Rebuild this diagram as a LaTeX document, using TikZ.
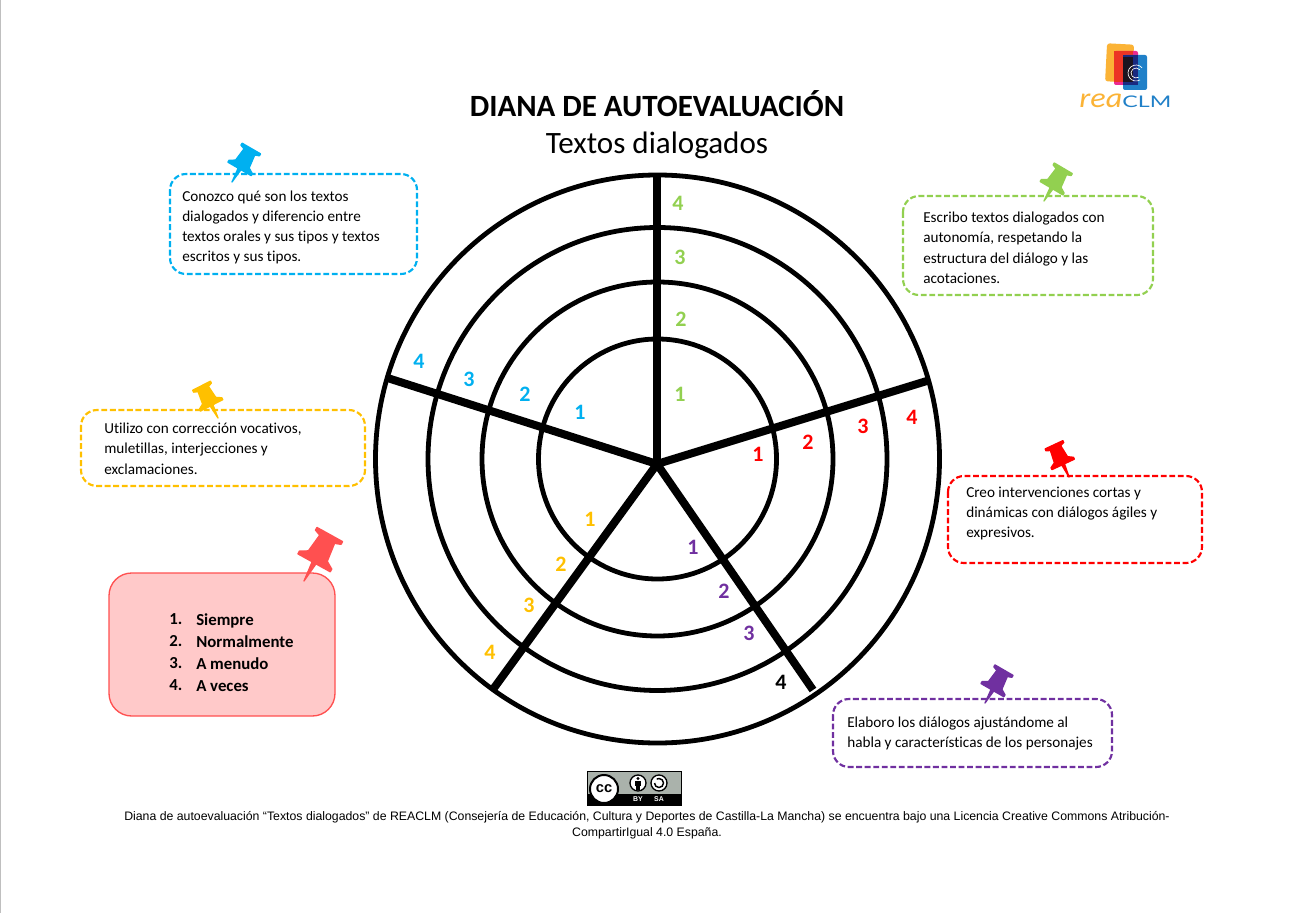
\documentclass[tikz,border=0pt]{standalone}
\usepackage{fontspec}
\setmainfont{Carlito}[RawFeature={-liga;-clig}]
\newfontfamily\footfont{Liberation Sans}
\newfontfamily\logofont{Lato}
\definecolor{cgreen}{HTML}{92D050}
\definecolor{cblue}{HTML}{00B0F0}
\definecolor{cred}{HTML}{FF0000}
\definecolor{corange}{HTML}{FFC000}
\definecolor{cpurple}{HTML}{7030A0}
\definecolor{cpink}{HTML}{FF5050}
\definecolor{cpinkfill}{HTML}{FFC9C9}
\definecolor{ccgray}{HTML}{AAB2AB}
\definecolor{lyellow}{HTML}{FBB336}
\definecolor{lred}{HTML}{EC3424}
\definecolor{lmag}{HTML}{EC2A90}
\definecolor{lblue}{HTML}{2080C8}
\definecolor{lnavy}{HTML}{1A2A80}
\definecolor{ldark}{HTML}{1C1420}
\tikzset{
  x=0.75pt,y=-0.75pt,
  ring/.style={draw=black,line width=3.6pt},
  spoke/.style={draw=black,line width=6pt},
  notebox/.style={draw=#1,line width=1.6pt,rounded corners=12pt,dash pattern=on 4.4pt off 2pt},
  notetext/.style={anchor=north west,align=left,inner sep=0pt,font=\fontsize{11.4pt}{15.1pt}\selectfont,text=black},
  digit/.style={text=#1,font=\fontsize{16.5pt}{16.5pt}\selectfont\bfseries,inner sep=0pt},
  pinbody/.style={fill=#1,draw=#1,line width=1pt,line join=round},
  pin/.pic={\path[pic actions]
     (0,0) -- (-1.4,-13.5) -- (-12,-13.5) -- (-12,-15.5) -- (-7,-18.5) -- (-5.5,-31) -- (-9.5,-32.5) -- (-9.5,-34.5)
     -- (9.5,-34.5) -- (9.5,-32.5) -- (5.5,-31) -- (7,-18.5) -- (12,-15.5) -- (12,-13.5) -- (1.4,-13.5) -- cycle;},
}
\begin{document}
\begin{tikzpicture}
\useasboundingbox (0,0) rectangle (1291,913);
\fill[white] (0,0) rectangle (1291,913);
\draw[black!25,line width=0.75pt] (0.5,0) -- (0.5,913);

% target
\coordinate (cen) at (657.5,459);
\coordinate (hub) at (657,464);
\coordinate (sA) at (657,175);
\coordinate (sB) at (930,380);
\coordinate (sC) at (813,690);
\coordinate (sD) at (494,688);
\coordinate (sE) at (386,377.5);
\draw[ring] (cen) ellipse[x radius=119,y radius=120];
\draw[ring] (cen) ellipse[x radius=175.5,y radius=177];
\draw[ring] (cen) ellipse[x radius=229.5,y radius=231.5];
\draw[ring] (cen) ellipse[x radius=282,y radius=284];
\foreach \e in {sA,sB,sC,sD,sE} \draw[spoke] (hub) -- (\e);

% digits
\node[digit=cgreen] (g4) at (678,203) {4};
\node[digit=cgreen] (g3) at (680,257) {3};
\node[digit=cgreen] (g2) at (681,319) {2};
\node[digit=cgreen] (g1) at (680,394) {1};
\node[digit=cred] (r1) at (758,454) {1};
\node[digit=cred] (r2) at (808,442) {2};
\node[digit=cred] (r3) at (863,426) {3};
\node[digit=cred] (r4) at (912,417) {4};
\node[digit=cpurple] (p1) at (693,547) {1};
\node[digit=cpurple] (p2) at (724,591) {2};
\node[digit=cpurple] (p3) at (749,633) {3};
\node[digit=black] (p4) at (781,682) {4};
\node[digit=corange] (o1) at (590,519) {1};
\node[digit=corange] (o2) at (561,564) {2};
\node[digit=corange] (o3) at (529,605) {3};
\node[digit=corange] (o4) at (490,652) {4};
\node[digit=cblue] (b1) at (580,412) {1};
\node[digit=cblue] (b2) at (525,394) {2};
\node[digit=cblue] (b3) at (469,379) {3};
\node[digit=cblue] (b4) at (419,361) {4};

% titles
\node[font=\fontsize{23.2pt}{23.2pt}\selectfont\bfseries,inner sep=0pt,anchor=base] (title) at (657,117) {DIANA DE AUTOEVALUACIÓN};
\node[font=\fontsize{23.3pt}{23.3pt}\selectfont,inner sep=0pt,anchor=base] (subtitle) at (657,153) {Textos dialogados};

% note boxes
\draw[notebox=cblue] (170,174) rectangle (417,274);
\node[notetext] (tb) at (182,190.5) {Conozco qué son los textos\\dialogados y diferencio entre\\textos orales y sus tipos y textos\\escritos y sus tipos.};
\draw[notebox=cgreen] (903,196) rectangle (1153,295);
\node[notetext] (tg) at (923,212) {Escribo textos dialogados con\\autonomía, respetando la\\estructura del diálogo y las\\acotaciones.};
\draw[notebox=corange] (81,410) rectangle (365,486);
\node[notetext] (to) at (104,423) {Utilizo con corrección vocativos,\\muletillas, interjecciones y\\exclamaciones.};
\draw[notebox=cred] (948,476) rectangle (1202,563);
\node[notetext] (tr) at (966,487) {Creo intervenciones cortas y\\dinámicas con diálogos ágiles y\\expresivos.};
\draw[notebox=cpurple] (833,699) rectangle (1112,767);
\node[notetext] (tp) at (847,717) {Elaboro los diálogos ajustándome al\\habla y características de los personajes};

% legend
\draw[draw=cpink,fill=cpinkfill,line width=1pt,rounded corners=17pt] (109,573) rectangle (335,716);
\node[notetext,font=\fontsize{12.6pt}{16.5pt}\selectfont\bfseries] (legn) at (169,613) {1.\\2.\\3.\\4.};
\node[notetext,font=\fontsize{12.6pt}{16.5pt}\selectfont\bfseries] (legt) at (196,613) {Siempre\\Normalmente\\A menudo\\A veces};

% pins
\pic[pinbody=cblue,rotate=-30,scale=1.12] at (232,182) {pin};
\pic[pinbody=cgreen,rotate=-30.5,scale=1.1] at (1044,201) {pin};
\pic[pinbody=corange,rotate=27,scale=1.05] at (218,418) {pin};
\pic[pinbody=cred,rotate=25,scale=1.03] at (1069,477) {pin};
\pic[pinbody=cpurple,rotate=-30,scale=1.1] at (985,703) {pin};
\pic[pinbody=cpink,rotate=-29,scale=1.54] at (304,581) {pin};

% logo
\fill[rounded corners=2pt,lyellow,rotate around={-3:(1120,64)}] (1106,44) rectangle (1133,82);
\fill[rounded corners=1.5pt,lmag] (1114,51) rectangle (1138,85);
\fill[lred] (1114,51) rectangle (1133,82);
\fill[rounded corners=1.5pt,lblue] (1123,55) rectangle (1147,90);
\fill[lnavy] (1123,55) rectangle (1138,85);
\fill[ldark] (1123,57) rectangle (1133,82);
\draw[white,line width=0.5pt] (1136,73) ++(-40:8) arc[start angle=-40,end angle=-300,radius=8];
\draw[white,line width=0.5pt] (1136,73) ++(-40:5) arc[start angle=-40,end angle=-300,radius=5];
\node[anchor=base west,inner sep=0pt,text=lyellow,transform shape,xscale=1.15,font=\fontsize{21pt}{21pt}\selectfont\itshape] (logoa) at (1079,108) {rea};
\node[anchor=base west,inner sep=0pt,text=lblue,transform shape,xscale=1.45,font=\fontsize{12pt}{12pt}\logofont\selectfont] (logob) at (1122,108) {CLM};

% cc badge
\fill[ccgray] (587,771) rectangle (681,805);
\fill[black] (587,794) rectangle (681,805);
\draw[black,line width=0.6pt] (587,771) rectangle (681,805);
\node[circle,draw=black,fill=white,line width=1.5pt,minimum size=21pt,inner sep=0pt,font=\fontsize{11pt}{11pt}\bfseries\footfont\selectfont] (ccmark) at (604,789) {cc};
\node[circle,draw=black,fill=white,line width=1pt,minimum size=12pt,inner sep=0pt] (bymark) at (638,783) {};
\fill[black] (638,778.5) circle[radius=1.6];
\fill[black] (635.2,781) rectangle (640.8,786);
\fill[black] (636.4,786) rectangle (639.6,790);
\node[circle,draw=black,fill=white,line width=1pt,minimum size=12pt,inner sep=0pt] (samark) at (659,783) {};
\draw[black,line width=1.1pt] (654.5,783) arc[start angle=180,end angle=-120,radius=4.5];
\node[text=white,inner sep=0pt,font=\fontsize{5.2pt}{5.2pt}\bfseries\footfont\selectfont] (bytxt) at (638,799.5) {BY};
\node[text=white,inner sep=0pt,font=\fontsize{5.2pt}{5.2pt}\bfseries\footfont\selectfont] (satxt) at (659,799.5) {SA};

% footer
\node[align=center,inner sep=0pt,font=\fontsize{9.22pt}{12pt}\footfont\selectfont] (foot) at (647,825) {Diana de autoevaluación “Textos dialogados” de REACLM (Consejería de Educación, Cultura y Deportes de Castilla-La Mancha) se encuentra bajo una Licencia Creative Commons Atribución-\\CompartirIgual 4.0 España.};
\end{tikzpicture}
\end{document}
